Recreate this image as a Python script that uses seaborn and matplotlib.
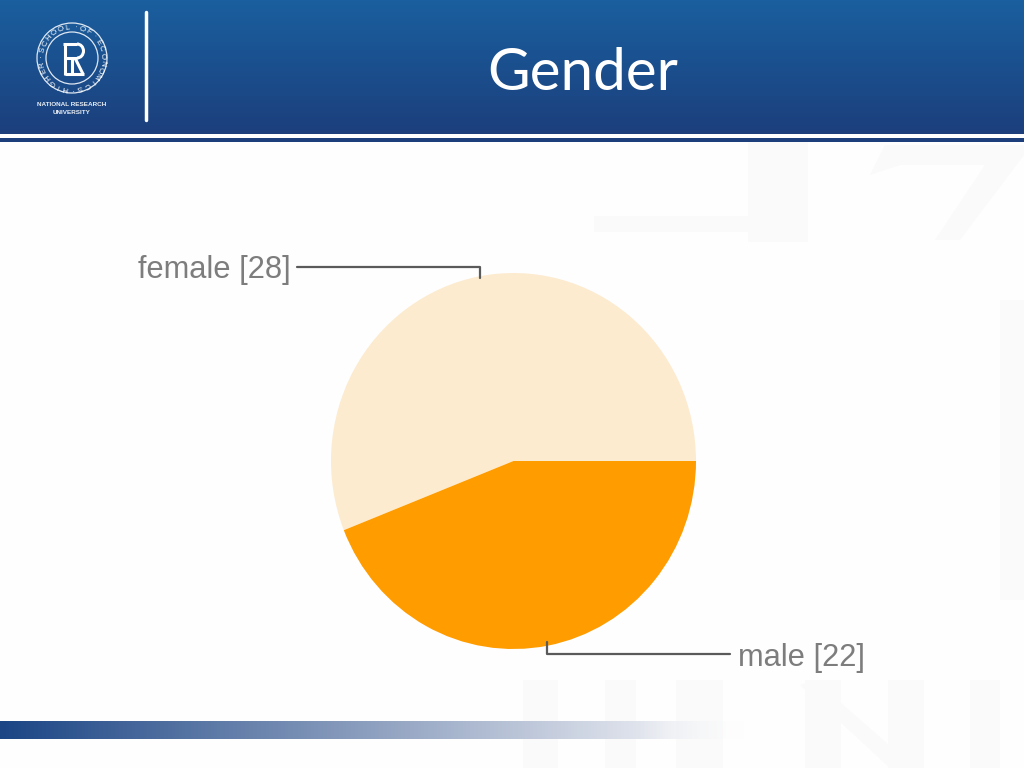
import matplotlib
matplotlib.use('Agg')
import matplotlib.pyplot as plt
import numpy as np
import seaborn as sns
from matplotlib.colors import LinearSegmentedColormap
from matplotlib.patches import Circle, Rectangle, Polygon, Arc

categories = ['female', 'male']
counts = [28, 22]
slice_colors = ['#fdebcf', '#ff9c00']
title = 'Gender'
logo_ring = 'HIGHER·SCHOOL·OF·ECONOMICS·'
logo_lines = ['NATIONAL RESEARCH', 'UNIVERSITY']

sns.set_theme(style='white')
plt.rcParams['font.family'] = ['Liberation Sans', 'DejaVu Sans']

fig = plt.figure(figsize=(10.24, 7.68), dpi=100, facecolor='#fefefe')

# whole slide in pixel coordinates
bg = fig.add_axes([0, 0, 1, 1], facecolor='#fefefe')
bg.set_xlim(0, 1024)
bg.set_ylim(768, 0)
bg.axis('off')

# faint watermark
wm = '#fafafa'
for x, y, w, h in [(594, 216, 156, 16), (748, 142, 60, 100), (1000, 300, 24, 300),
                   (523, 680, 35, 88), (605, 680, 31, 88), (676, 680, 47, 88),
                   (805, 680, 36, 88), (888, 680, 36, 88), (970, 680, 30, 88)]:
    bg.add_patch(Rectangle((x, y), w, h, color=wm, lw=0, zorder=1))
bg.add_patch(Polygon([(870, 175), (885, 145), (1024, 145), (1024, 155), (960, 240), (935, 240),
                      (985, 165), (900, 165)], color=wm, lw=0, zorder=1))
bg.add_patch(Polygon([(800, 685), (815, 680), (915, 768), (890, 768)], color=wm, lw=0, zorder=1))

# header and footer gradients
header = LinearSegmentedColormap.from_list('header', ['#1a5f9f', '#1c3f7c'])
bg.imshow(np.linspace(0, 1, 134).reshape(-1, 1), cmap=header, extent=(0, 1024, 134, 0),
          aspect='auto', zorder=2)
bg.add_patch(Rectangle((0, 138), 1024, 4, color='#1c3f7c', lw=0, zorder=2))
footer = LinearSegmentedColormap.from_list('footer', [(0, '#1b4585'), (0.5, '#8fa1c0'),
                                                      (0.85, '#dfe3ec'), (1, (1, 1, 1, 0))])
bg.imshow(np.linspace(0, 1, 256).reshape(1, -1), cmap=footer, extent=(0, 750, 739, 721),
          aspect='auto', zorder=2)
bg.set_xlim(0, 1024)
bg.set_ylim(768, 0)

# logo
bg.plot([146, 146], [12, 120], color='white', lw=2.5, zorder=3)
bg.add_patch(Circle((72, 58), 35, fill=False, ec='#dfe8f2', lw=0.9, zorder=3))
bg.add_patch(Circle((72, 58), 26, fill=False, ec='#dfe8f2', lw=0.9, zorder=3))
for i, ch in enumerate(logo_ring):
    ang = np.radians(258 - i * 360 / len(logo_ring))
    bg.text(72 + 30.5 * np.cos(ang), 58 - 30.5 * np.sin(ang), ch, color='white', fontsize=5.8,
            ha='center', va='center', rotation=np.degrees(ang) - 90, zorder=3)
for xs, ys in [([65, 65], [43, 75]), ([63, 77], [44, 44]), ([65, 77], [58, 58]),
               ([65, 84], [74, 74]), ([72, 72], [58, 74]), ([75, 83], [58, 74])]:
    bg.plot(xs, ys, color='white', lw=2.2, solid_capstyle='butt', zorder=3)
bg.add_patch(Arc((77, 51), 13, 14, theta1=-90, theta2=90, ec='white', lw=2.2, zorder=3))
bg.text(72, 104, logo_lines[0], color='#e8eef5', fontsize=4.6, fontweight='bold',
        ha='center', va='center', zorder=3)
bg.text(72, 112, logo_lines[1], color='#e8eef5', fontsize=4.6, fontweight='bold',
        ha='center', va='center', zorder=3)

bg.text(583, 74, title, color='white', fontsize=42, family=['Lato', 'DejaVu Sans'],
        ha='center', va='center', zorder=3)

# pie, slightly taller than wide like the original
ax = fig.add_axes([331 / 1024, (768 - 649) / 768, 365 / 1024, 376 / 768])
ax.pie(counts, colors=sns.color_palette(slice_colors), startangle=0, counterclock=True,
       radius=1, wedgeprops={'linewidth': 0})
ax.set_aspect('auto')
ax.set_xlim(-1, 1)
ax.set_ylim(-1, 1)

# leader lines and labels
line = '#5a5a5a'
label = '#7d7d7d'
top = fig.add_axes([0, 0, 1, 1], facecolor='none')
top.set_xlim(0, 1024)
top.set_ylim(768, 0)
top.axis('off')
top.plot([297, 480, 480], [267, 267, 278], color=line, lw=1.6)
top.plot([547, 547, 730], [642, 654, 654], color=line, lw=1.6)
top.text(138, 270, f'{categories[0]} [{counts[0]}]', color=label, fontsize=22.2, ha='left', va='center')
top.text(738, 658, f'{categories[1]} [{counts[1]}]', color=label, fontsize=22.2, ha='left', va='center')

fig.savefig('out.png', dpi=100, facecolor=fig.get_facecolor())
